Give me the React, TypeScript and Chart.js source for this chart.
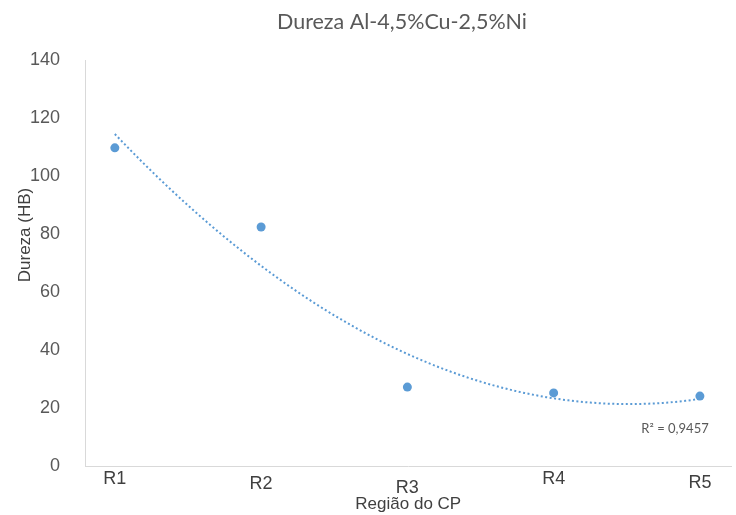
import React, { useEffect, useRef } from "react";
import { Chart, registerables } from "chart.js";

Chart.register(...registerables);

const categories = ["R1", "R2", "R3", "R4", "R5"];
const hardness = [109.7, 82.4, 27.2, 25.2, 24.1];
const titleText = "Dureza Al-4,5%Cu-2,5%Ni";
const yTitle = "Dureza (HB)";
const xTitle = "Região do CP";
const r2Label = "R² = 0,9457";
const yMin = 0;
const yMax = 140;
const yStep = 20;
// Excel staggers these category labels slightly
const labelLineHeights = ["10px", "20px", "29px", "10px", "18px"];

// Order-2 polynomial least-squares trendline, as Excel computes it
function polyFit2(xs: number[], ys: number[]) {
  const n = xs.length;
  let s1 = 0, s2 = 0, s3 = 0, s4 = 0, t0 = 0, t1 = 0, t2 = 0;
  for (let i = 0; i < n; i++) {
    const x = xs[i], y = ys[i];
    s1 += x; s2 += x * x; s3 += x ** 3; s4 += x ** 4;
    t0 += y; t1 += x * y; t2 += x * x * y;
  }
  const M = [
    [n, s1, s2, t0],
    [s1, s2, s3, t1],
    [s2, s3, s4, t2],
  ];
  for (let i = 0; i < 3; i++) {
    for (let k = i + 1; k < 3; k++) {
      const f = M[k][i] / M[i][i];
      for (let j = i; j < 4; j++) M[k][j] -= f * M[i][j];
    }
  }
  const c = [0, 0, 0];
  for (let i = 2; i >= 0; i--) {
    let s = M[i][3];
    for (let j = i + 1; j < 3; j++) s -= M[i][j] * c[j];
    c[i] = s / M[i][i];
  }
  return (x: number) => c[0] + c[1] * x + c[2] * x * x;
}

export default function App() {
  const ref = useRef<HTMLCanvasElement>(null);

  useEffect(() => {
    document.body.style.margin = "0";
    const xs = categories.map((_, i) => i + 1);
    const fit = polyFit2(xs, hardness);
    const trend: { x: number; y: number }[] = [];
    for (let k = 0; k <= 80; k++) {
      const x = 1 + (4 * k) / 80;
      trend.push({ x, y: fit(x) });
    }

    const textPlugin = {
      id: "texts",
      afterDraw(chart: any) {
        const { ctx, scales } = chart;
        ctx.save();
        // title
        ctx.fillStyle = "#595959";
        ctx.font = "21.5px Lato";
        ctx.textAlign = "center";
        ctx.textBaseline = "middle";
        ctx.fillText(titleText, 402, 22);
        // y title
        ctx.save();
        ctx.translate(25, 235);
        ctx.rotate(-Math.PI / 2);
        ctx.fillStyle = "#404040";
        ctx.font = "17px 'Liberation Sans', Arial";
        ctx.fillText(yTitle, 0, 0);
        ctx.restore();
        // R² label
        ctx.fillStyle = "#595959";
        ctx.font = "13px Lato";
        ctx.fillText(
          r2Label,
          scales.x.getPixelForValue(4.83),
          scales.y.getPixelForValue(12.8)
        );
        ctx.restore();
      },
    };

    const chart = new Chart(ref.current!, {
      type: "scatter",
      data: {
        datasets: [
          {
            label: "Trend",
            data: trend,
            showLine: true,
            pointRadius: 0,
            borderColor: "#5b9bd5",
            borderWidth: 2,
            borderDash: [2, 2.5],
            fill: false,
            order: 2,
          },
          {
            label: "Dureza",
            data: hardness.map((v, i) => ({ x: i + 1, y: v })),
            pointRadius: 4.5,
            pointBackgroundColor: "#5b9bd5",
            pointBorderWidth: 0,
            showLine: false,
            order: 1,
          },
        ],
      },
      options: {
        animation: false,
        responsive: false,
        layout: { padding: { top: 60, right: 1, left: 0, bottom: 0 } },
        plugins: {
          legend: { display: false },
          tooltip: { enabled: false },
          title: { display: false },
        },
        scales: {
          x: {
            type: "linear",
            min: 0.796,
            max: 5.216,
            grid: { display: false },
            border: { display: true, color: "#d9d9d9", width: 1 },
            afterBuildTicks: (scale: any) => {
              scale.ticks = categories.map((_, i) => ({ value: i + 1 }));
            },
            afterFit: (scale: any) => {
              scale.height = 49;
            },
            ticks: {
              padding: 0,
              color: "#404040",
              maxRotation: 0,
              autoSkip: false,
              font: (ctx: any) => ({
                family: "'Liberation Sans', Arial",
                size: 18,
                lineHeight: labelLineHeights[ctx.index] ?? "10px",
              }),
              callback: (v: any) => categories[Math.round(Number(v)) - 1] ?? "",
            },
            title: {
              display: true,
              text: xTitle,
              color: "#404040",
              font: { family: "'Liberation Sans', Arial", size: 17 },
              padding: { top: 0, bottom: 0 },
            },
          },
          y: {
            min: yMin,
            max: yMax,
            grid: { display: false },
            border: { display: true, color: "#d9d9d9", width: 1 },
            afterFit: (scale: any) => {
              scale.width = 85;
            },
            ticks: {
              stepSize: yStep,
              padding: 17,
              color: "#595959",
              font: { family: "'Liberation Sans', Arial", size: 18 },
            },
          },
        },
      },
      plugins: [textPlugin],
    });
    return () => chart.destroy();
  }, []);

  return <canvas ref={ref} width={736} height={515} style={{ display: "block" }} />;
}
